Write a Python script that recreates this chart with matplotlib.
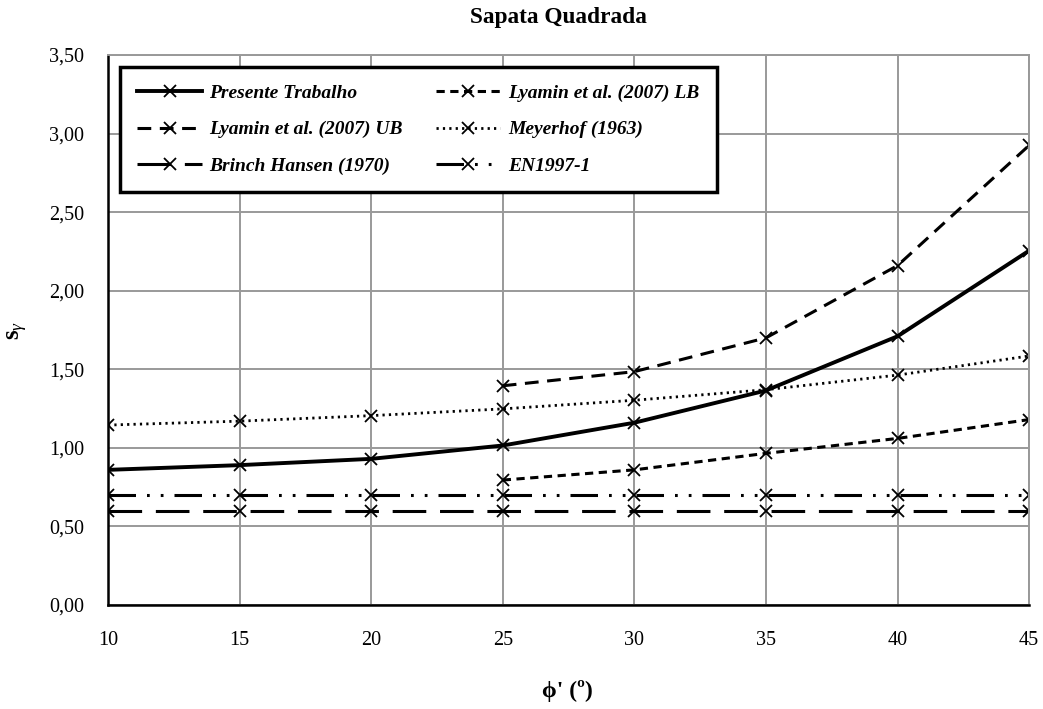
import matplotlib
matplotlib.use("Agg")
import matplotlib.pyplot as plt
from matplotlib.ticker import FuncFormatter, MultipleLocator

plt.rcParams['font.family'] = ['Liberation Serif', 'DejaVu Serif']
plt.rcParams['mathtext.fontset'] = 'custom'
plt.rcParams['mathtext.rm'] = 'Liberation Serif'
plt.rcParams['mathtext.it'] = 'Liberation Serif:italic'
plt.rcParams['mathtext.bf'] = 'Liberation Serif:bold'

phi = [10, 15, 20, 25, 30, 35, 40, 45]
phi_lyamin = [25, 30, 35, 40, 45]

presente = [0.86, 0.89, 0.93, 1.015, 1.16, 1.365, 1.71, 2.255]
lyamin_lb = [0.795, 0.86, 0.965, 1.06, 1.18]
lyamin_ub = [1.395, 1.485, 1.70, 2.16, 2.925]
meyerhof = [1.145, 1.17, 1.205, 1.248, 1.303, 1.37, 1.463, 1.585]
brinch = [0.60, 0.60, 0.60, 0.60, 0.60, 0.60, 0.60, 0.60]
en1997 = [0.70, 0.70, 0.70, 0.70, 0.70, 0.70, 0.70, 0.70]

fig = plt.figure(figsize=(10.43, 7.09), dpi=100)
ax = fig.add_axes([0.1035, 0.1467, 0.8832, 0.7757])

mk = dict(marker='x', markersize=9, markeredgewidth=1.3, color='black')

h1, = ax.plot(phi, presente, linestyle='-', linewidth=2.8, label='Presente Trabalho', **mk)
h2, = ax.plot(phi_lyamin, lyamin_lb, linestyle=(0, (2.7, 1.8)), linewidth=2.2, label='Lyamin et al. (2007) LB', **mk)
h3, = ax.plot(phi_lyamin, lyamin_ub, linestyle=(0, (4.5, 2.8)), linewidth=2.2, label='Lyamin et al. (2007) UB', **mk)
h4, = ax.plot(phi, meyerhof, linestyle=(0, (0.8, 1.5)), linewidth=2.0, label='Meyerhof (1963)', **mk)
h5, = ax.plot(phi, brinch, linestyle=(0, (11, 4.5)), linewidth=2.2, label='Brinch Hansen (1970)', **mk)
h6, = ax.plot(phi, en1997, linestyle=(0, (9, 3.6, 0.9, 3.6, 0.9, 3.6)), linewidth=2.2, label='EN1997-1', **mk)

ax.set_xlim(10, 45)
ax.set_ylim(0, 3.5)
ax.xaxis.set_major_locator(MultipleLocator(5))
ax.yaxis.set_major_locator(MultipleLocator(0.5))
ax.yaxis.set_major_formatter(FuncFormatter(lambda v, p: f"{v:.2f}".replace('.', ',')))
ax.grid(True, color='#999999', linewidth=1.4)
ax.set_axisbelow(True)
for s in ['top', 'right']:
    ax.spines[s].set_color('#999999')
    ax.spines[s].set_linewidth(1.4)
for s in ['left', 'bottom']:
    ax.spines[s].set_color('black')
    ax.spines[s].set_linewidth(1.8)
ax.tick_params(axis='both', length=0, labelsize=14.5)
ax.tick_params(axis='x', pad=19)
ax.tick_params(axis='y', pad=17)

fig.text(558 / 1043, 1 - 18 / 709, 'Sapata Quadrada', fontsize=16.8, fontweight='bold',
         ha='center', va='center')
fig.text(567 / 1043, 1 - 691 / 709, "ϕ' (º)", fontsize=17, fontweight='bold',
         ha='center', va='center')
fig.text(18 / 1043, 1 - 330 / 709, r'$\mathbf{s}_{\gamma}$', fontsize=18,
         ha='center', va='center', rotation=90)

leg = ax.legend(handles=[h1, h3, h5, h2, h4, h6], ncol=2, loc='upper left',
                bbox_to_anchor=(0.013, 0.978), borderaxespad=0.0, frameon=True, fancybox=False,
                edgecolor='black', framealpha=1, borderpad=0.9, labelspacing=0.95,
                columnspacing=1.7, handlelength=3.3, handletextpad=0.4,
                prop={'family': 'Liberation Serif', 'weight': 'bold', 'style': 'italic', 'size': 14})
leg.get_frame().set_linewidth(2.5)

fig.savefig('out.png', dpi=100)
